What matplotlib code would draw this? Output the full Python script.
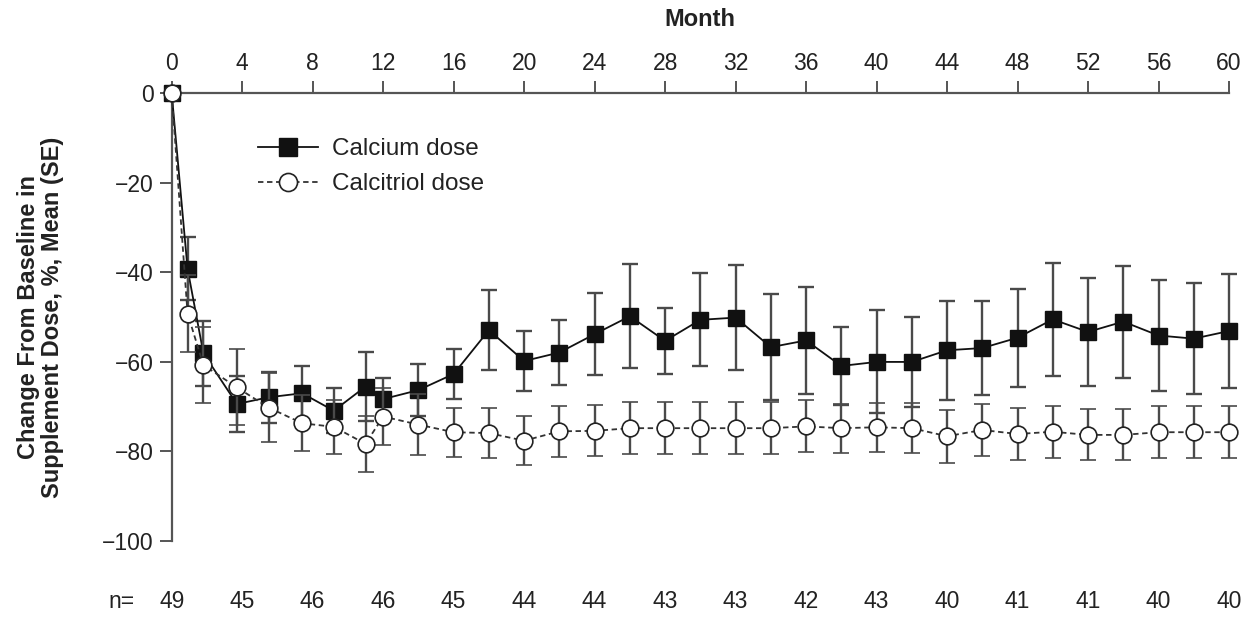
import matplotlib
matplotlib.use("Agg")
import matplotlib.pyplot as plt
from matplotlib.lines import Line2D
from matplotlib.transforms import blended_transform_factory

plt.rcParams['font.family'] = ['Liberation Sans', 'DejaVu Sans']

months = [0, 0.9, 1.8, 3.7, 5.5, 7.4, 9.2, 11, 12, 14, 16, 18, 20, 22, 24, 26, 28,
          30, 32, 34, 36, 38, 40, 42, 44, 46, 48, 50, 52, 54, 56, 58, 60]

calcium_mean = [0, -39.2, -58.1, -69.4, -67.9, -67.0, -70.9, -65.5, -68.3, -66.3,
                -62.7, -52.9, -59.8, -57.9, -53.8, -49.8, -55.3, -50.6, -50.1, -56.7,
                -55.2, -60.9, -60.0, -60.0, -57.4, -56.9, -54.6, -50.5, -53.3, -51.0,
                -54.1, -54.8, -53.1]
calcium_se = [0, 7.0, 7.3, 6.3, 5.7, 6.1, 5.0, 7.7, 4.6, 5.8, 5.6, 8.9, 6.7, 7.2,
              9.2, 11.6, 7.4, 10.4, 11.7, 11.9, 12.0, 8.8, 11.5, 10.0, 11.0, 10.6,
              10.9, 12.6, 12.0, 12.5, 12.4, 12.4, 12.8]

calcitriol_mean = [0, -49.2, -60.7, -65.7, -70.2, -73.7, -74.5, -78.3, -72.2, -74.0,
                   -75.7, -75.9, -77.6, -75.5, -75.4, -74.8, -74.8, -74.8, -74.8, -74.8,
                   -74.4, -74.8, -74.6, -74.8, -76.6, -75.2, -76.1, -75.6, -76.3, -76.3,
                   -75.7, -75.7, -75.7]
calcitriol_se = [0, 8.6, 8.5, 8.5, 7.7, 6.3, 6.1, 6.3, 6.4, 6.9, 5.5, 5.5, 5.5, 5.7,
                 5.7, 5.8, 5.8, 5.8, 5.8, 5.8, 5.8, 5.5, 5.5, 5.6, 5.9, 5.8, 5.7, 5.8,
                 5.7, 5.7, 5.8, 5.8, 5.8]

series_labels = ['Calcium dose', 'Calcitriol dose']
x_ticks = list(range(0, 61, 4))
y_ticks = [0, -20, -40, -60, -80, -100]
y_ticklabels = ['0', '\u221220', '\u221240', '\u221260', '\u221280', '\u2212100']
n_months = list(range(0, 61, 4))
n_values = [49, 45, 46, 46, 45, 44, 44, 43, 43, 42, 43, 40, 41, 41, 40, 40]

W, H = 1257, 624
fig = plt.figure(figsize=(W / 100, H / 100), dpi=100)
left, right, top, bottom = 171.7, 1229, 93.3, 541
ax = fig.add_axes([left / W, 1 - bottom / H, (right - left) / W, (bottom - top) / H])

axis_color = '#555555'
err_color = '#4a4a4a'
text_color = '#222222'
fs_tick = 16.5
fs_leg = 17.5
fs_bold = 17

ax.errorbar(months, calcium_mean, yerr=calcium_se, fmt='-s', color='#111111',
            lw=1.3, ms=12, mfc='#111111', mec='#111111', ecolor=err_color,
            elinewidth=1.7, capsize=6, capthick=1.7, clip_on=False, zorder=3)
ax.errorbar(months, calcitriol_mean, yerr=calcitriol_se, fmt='--o', color='#333333',
            lw=1.3, ms=12, mfc='white', mec='#222222', mew=1.2, ecolor=err_color,
            elinewidth=1.7, capsize=6, capthick=1.7, clip_on=False, zorder=4,
            dashes=(3, 2))

ax.set_xlim(0, 60)
ax.set_ylim(-100, 0)

ax.spines['bottom'].set_visible(False)
ax.spines['right'].set_visible(False)
for s in ('top', 'left'):
    ax.spines[s].set_color(axis_color)
    ax.spines[s].set_linewidth(1.6)

ax.xaxis.tick_top()
ax.set_xticks(x_ticks)
ax.set_xticklabels([str(t) for t in x_ticks])
ax.set_yticks(y_ticks)
ax.set_yticklabels(y_ticklabels)
ax.tick_params(axis='both', direction='out', length=9, width=1.4, color=axis_color,
               labelsize=fs_tick, labelcolor=text_color)
ax.tick_params(axis='x', pad=4)
ax.tick_params(axis='y', pad=4)

handles = [
    Line2D([], [], color='#111111', lw=1.3, marker='s', ms=13, mfc='#111111', mec='#111111'),
    Line2D([], [], color='#333333', lw=1.3, ls='--', dashes=(3, 2), marker='o', ms=13,
           mfc='white', mec='#222222', mew=1.2),
]
leg = ax.legend(handles, series_labels, loc='upper left', bbox_to_anchor=(0.0816, 0.900),
                frameon=False, fontsize=fs_leg, handlelength=2.47, handletextpad=0.58,
                labelspacing=0.55, borderpad=0, borderaxespad=0)
for t in leg.get_texts():
    t.set_color(text_color)

fig.text(700 / W, 1 - 20 / H, 'Month', ha='center', va='center', fontsize=fs_bold,
         fontweight='bold', color=text_color)
fig.text(40.5 / W, 1 - 317 / H, 'Change From Baseline in\nSupplement Dose, %, Mean (SE)',
         ha='center', va='center', rotation=90, fontsize=fs_bold, fontweight='bold',
         linespacing=1.05, multialignment='center', color=text_color)

trans = blended_transform_factory(ax.transData, fig.transFigure)
ny = 1 - 601.5 / H
fig.text(122 / W, ny, 'n=', ha='center', va='center', fontsize=fs_tick, color=text_color)
for m, n in zip(n_months, n_values):
    ax.text(m, ny, str(n), transform=trans, ha='center', va='center', fontsize=fs_tick,
            color=text_color)

fig.savefig('out.png', dpi=100)
